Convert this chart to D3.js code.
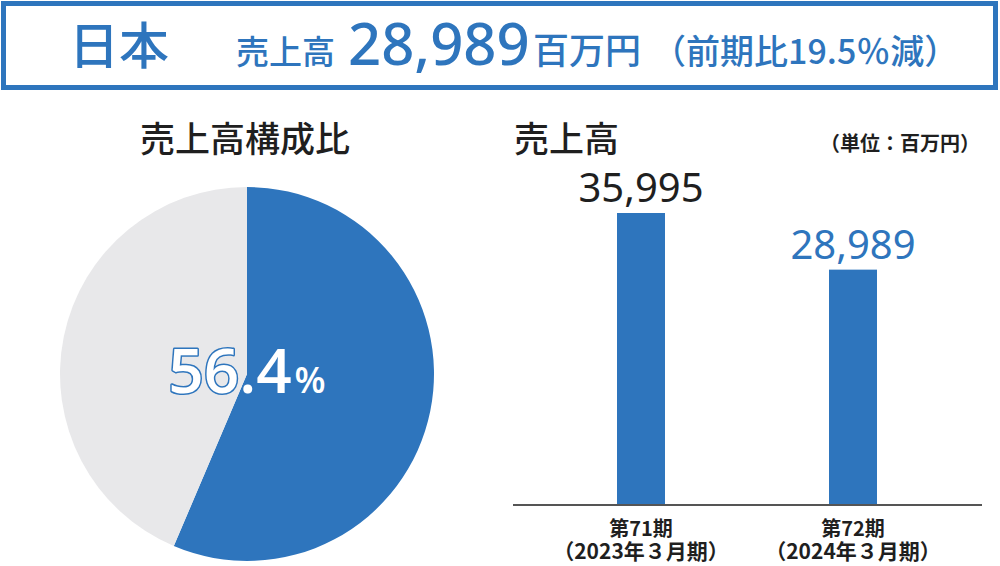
<!DOCTYPE html>
<html lang="ja">
<head>
<meta charset="utf-8">
<script src="https://cdn.jsdelivr.net/npm/d3@7"></script>
<style>
  html, body { margin: 0; padding: 0; background: #fff; }
  svg { display: block; font-family: "Noto Sans CJK JP", "Noto Sans", sans-serif; }
</style>
</head>
<body>
<svg id="chart" width="1000" height="566"></svg>
<script>
// ---- data ----
const region = "日本";
const salesLabel = "売上高";
const currentSales = "28,989";
const unitText = "百万円";
const changeText = "（前期比19.5％減）";
const shareTitle = "売上高構成比";
const shareValue = 56.4;           // 日本の売上高構成比（％）
const salesTitle = "売上高";
const unitLabel = "（単位：百万円）";
const periods = ["第71期", "第72期"];
const periodSubs = ["（2023年３月期）", "（2024年３月期）"];
const salesValues = [35995, 28989];

const BLUE = "#2e75bd";
const GRAY = "#e8e8ea";
const DARK = "#1f1f1f";

const svg = d3.select("#chart");

// ---- header box ----
svg.append("rect")
  .attr("x", 3.5).attr("y", 3.5).attr("width", 992).attr("height", 84)
  .attr("fill", "#fff").attr("stroke", BLUE).attr("stroke-width", 5);

svg.append("text")
  .attr("x", 69).attr("y", 64)
  .attr("fill", BLUE).attr("font-size", 50).attr("font-weight", 500)
  .text(region);

svg.append("text")
  .attr("x", 236).attr("y", 64)
  .attr("fill", BLUE).attr("font-size", 33).attr("font-weight", 500)
  .text(salesLabel);
svg.append("text")
  .attr("x", 348).attr("y", 65)
  .attr("fill", BLUE).attr("font-size", 58).attr("font-weight", 500)
  .attr("font-family", "'Noto Sans', sans-serif")
  .text(currentSales);
svg.append("text")
  .attr("x", 533).attr("y", 64)
  .attr("fill", BLUE).attr("font-size", 36).attr("font-weight", 500)
  .text(unitText);
svg.append("text")
  .attr("x", 652).attr("y", 64)
  .attr("fill", BLUE).attr("font-size", 34).attr("font-weight", 500)
  .text(changeText);

// ---- section titles ----
svg.append("text")
  .attr("x", 140).attr("y", 152)
  .attr("fill", DARK).attr("font-size", 35).attr("font-weight", 500)
  .text(shareTitle);

svg.append("text")
  .attr("x", 514).attr("y", 152)
  .attr("fill", DARK).attr("font-size", 35).attr("font-weight", 500)
  .text(salesTitle);

svg.append("text")
  .attr("x", 980).attr("y", 151).attr("text-anchor", "end")
  .attr("fill", DARK).attr("font-size", 20).attr("font-weight", 700)
  .text(unitLabel);

// ---- pie: share of sales ----
const pieG = svg.append("g").attr("transform", "translate(247,374)");
const pie = d3.pie().sort(null).value(d => d.v);
const arc = d3.arc().innerRadius(0).outerRadius(187);
const slices = pie([
  { k: "japan", v: shareValue },
  { k: "other", v: 100 - shareValue }
]);
pieG.selectAll("path")
  .data(slices)
  .join("path")
  .attr("d", arc)
  .attr("fill", d => d.data.k === "japan" ? BLUE : GRAY);

const pct = pieG.append("text")
  .attr("x", 0).attr("y", 19).attr("text-anchor", "middle")
  .attr("fill", "#fff").attr("stroke", BLUE).attr("stroke-width", 3)
  .attr("stroke-linejoin", "round").attr("paint-order", "stroke")
  .attr("font-family", "'Open Sans', 'Noto Sans', sans-serif").attr("font-weight", 600);
pct.append("tspan").attr("font-size", 62).text(d3.format(".1f")(shareValue));
pct.append("tspan").attr("font-size", 36).attr("dx", 3).text("%");

// ---- bar chart: sales by period ----
const baseY = 504;
const x = d3.scalePoint().domain(periods).range([535, 959]).padding(0.5);
const y = d3.scaleLinear().domain([0, d3.max(salesValues)]).range([baseY, 213]);
const barW = 48;
const bars = periods.map((p, i) => ({ p, sub: periodSubs[i], v: salesValues[i], i }));

svg.selectAll("rect.bar")
  .data(bars)
  .join("rect")
  .attr("class", "bar")
  .attr("x", d => x(d.p) - barW / 2)
  .attr("y", d => y(d.v))
  .attr("width", barW)
  .attr("height", d => baseY - y(d.v))
  .attr("fill", BLUE);

svg.selectAll("text.val")
  .data(bars)
  .join("text")
  .attr("class", "val")
  .attr("x", d => x(d.p))
  .attr("y", d => y(d.v) - 11)
  .attr("text-anchor", "middle")
  .attr("font-family", "'Noto Sans', sans-serif")
  .attr("font-size", 40)
  .attr("fill", d => d.i === bars.length - 1 ? BLUE : DARK)
  .text(d => d3.format(",")(d.v));

svg.append("line")
  .attr("x1", 513).attr("x2", 982)
  .attr("y1", baseY + 1).attr("y2", baseY + 1)
  .attr("stroke", "#555").attr("stroke-width", 2);

// two-line period labels under each bar
const xl = svg.selectAll("text.xl")
  .data(bars)
  .join("text")
  .attr("class", "xl")
  .attr("text-anchor", "middle")
  .attr("fill", DARK).attr("font-size", 20).attr("font-weight", 700);
xl.append("tspan")
  .attr("x", d => x(d.p)).attr("y", 536)
  .text(d => d.p);
xl.append("tspan")
  .attr("x", d => x(d.p)).attr("y", 559)
  .attr("font-size", 21)
  .text(d => d.sub);
</script>
</body>
</html>
